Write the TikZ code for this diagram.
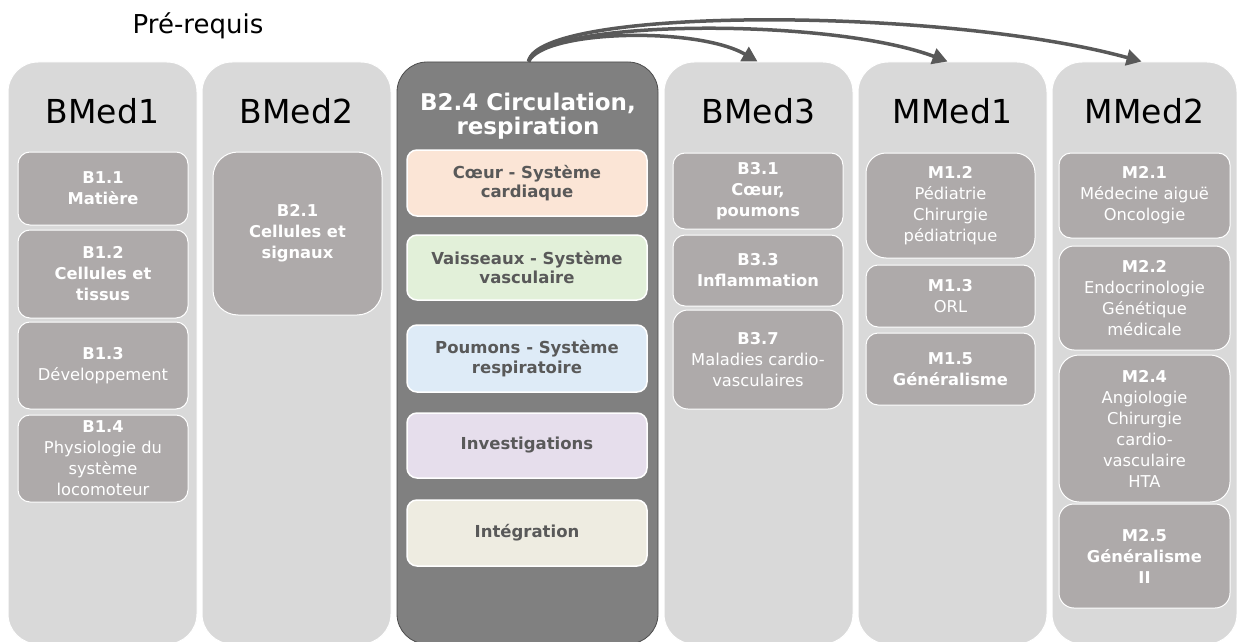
\documentclass[tikz,border=0pt]{standalone}
\usepackage{fontspec}
\setmainfont{DejaVu Sans}
\usetikzlibrary{arrows.meta}
\definecolor{colbg}{HTML}{D9D9D9}
\definecolor{darkcol}{HTML}{808080}
\definecolor{subbg}{HTML}{AEAAAA}
\definecolor{txtdark}{HTML}{595959}
\definecolor{arrowc}{HTML}{595959}
\definecolor{peach}{HTML}{FBE5D6}
\definecolor{mint}{HTML}{E2F0D9}
\definecolor{sky}{HTML}{DEEBF7}
\definecolor{lav}{HTML}{E6DEEC}
\definecolor{beige}{HTML}{EEECE1}
\begin{document}
\begin{tikzpicture}[x=1pt,y=-1pt,
 colbox/.style={rectangle, rounded corners=30pt, fill=colbg, draw=white, line width=1pt, minimum width=189pt, minimum height=582pt, inner sep=0pt},
 header/.style={font=\fontsize{33}{40}\selectfont, text=black, inner sep=0pt},
 sub/.style={rectangle, rounded corners=12pt, fill=subbg, draw=white, line width=1pt, text=white, align=center, inner sep=0pt, font=\fontsize{16.3}{21}\selectfont},
 topic/.style={rectangle, rounded corners=10pt, draw=white, line width=1.5pt, text=txtdark, align=center, inner sep=0pt, minimum width=240pt, font=\bfseries\fontsize{16.5}{19.5}\selectfont},
 link/.style={draw=arrowc, line width=3.5pt, -{Triangle[length=15pt,width=16pt]}}
]
\useasboundingbox (0,0) rectangle (1237,642);
\clip (0,0) rectangle (1237,642);

% columns
\node[colbox] (col1) at (102.5,353) {};
\node[colbox] (col2) at (296.5,353) {};
\node[colbox, fill=darkcol, draw=black!70, line width=0.8pt, minimum width=261pt] (col3) at (527.5,353) {};
\node[colbox] (col4) at (758.5,353) {};
\node[colbox] (col5) at (952.5,353) {};
\node[colbox, minimum width=185pt] (col6) at (1144.5,353) {};

% title
\node[font=\fontsize{26}{30}\selectfont, text=black, inner sep=0pt] (pre) at (198,26) {Pré-requis};

% headers
\node[header] (h1) at (102.5,111) {BMed1};
\node[header] (h2) at (296.5,111) {BMed2};
\node[text=white, align=center, inner sep=0pt, font=\bfseries\fontsize{23}{24}\selectfont] (h3) at (528,116) {B2.4 Circulation,\\respiration};
\node[header] (h4) at (758.5,111) {BMed3};
\node[header] (h5) at (952.5,111) {MMed1};
\node[header] (h6) at (1144.5,111) {MMed2};

% BMed1
\node[sub, minimum width=170pt, minimum height=73pt] (b11) at (103,188.5) {\textbf{B1.1}\\\textbf{Matière}};
\node[sub, minimum width=170pt, minimum height=88pt] (b12) at (103,274) {\textbf{B1.2}\\\textbf{Cellules et}\\\textbf{tissus}};
\node[sub, minimum width=170pt, minimum height=87pt] (b13) at (103,365.5) {\textbf{B1.3}\\Développement};
\node[sub, minimum width=170pt, minimum height=87pt] (b14) at (103,458.5) {\textbf{B1.4}\\Physiologie du\\système\\locomoteur};

% BMed2
\node[sub, rounded corners=25pt, minimum width=169pt, minimum height=163pt] (b21) at (297.5,233.5) {\textbf{B2.1}\\\textbf{Cellules et}\\\textbf{signaux}};

% B2.4
\node[topic, fill=peach, minimum height=66pt] (t1) at (527,183) {Cœur - Système\\cardiaque};
\node[topic, fill=mint, minimum height=65pt] (t2) at (527,267.5) {Vaisseaux - Système\\vasculaire};
\node[topic, fill=sky, minimum height=67pt] (t3) at (527,358.5) {Poumons - Système\\respiratoire};
\node[topic, fill=lav, minimum height=65pt] (t4) at (527,445.5) {Investigations};
\node[topic, fill=beige, minimum height=66pt] (t5) at (527,533) {Intégration};

% BMed3
\node[sub, minimum width=170pt, minimum height=76pt] (b31) at (758,191) {\textbf{B3.1}\\\textbf{Cœur,}\\\textbf{poumons}};
\node[sub, minimum width=170pt, minimum height=71pt] (b33) at (758,270.5) {\textbf{B3.3}\\\textbf{Inflammation}};
\node[sub, rounded corners=15pt, minimum width=170pt, minimum height=99pt] (b37) at (758,359.5) {\textbf{B3.7}\\Maladies cardio-\\vasculaires};

% MMed1
\node[sub, rounded corners=20pt, minimum width=169pt, minimum height=105pt] (m12) at (950.5,205.5) {\textbf{M1.2}\\Pédiatrie\\Chirurgie\\pédiatrique};
\node[sub, minimum width=169pt, minimum height=62pt] (m13) at (950.5,296) {\textbf{M1.3}\\ORL};
\node[sub, minimum width=169pt, minimum height=72pt] (m15) at (950.5,369) {\textbf{M1.5}\\\textbf{Généralisme}};

% MMed2
\node[sub, minimum width=171pt, minimum height=85pt] (m21) at (1144.5,195.5) {\textbf{M2.1}\\Médecine aiguë\\Oncologie};
\node[sub, rounded corners=15pt, minimum width=171pt, minimum height=104pt] (m22) at (1144.5,298) {\textbf{M2.2}\\Endocrinologie\\Génétique\\médicale};
\node[sub, rounded corners=20pt, minimum width=171pt, minimum height=147pt] (m24) at (1144.5,428.5) {\textbf{M2.4}\\Angiologie\\Chirurgie\\cardio-\\vasculaire\\HTA};
\node[sub, rounded corners=15pt, minimum width=171pt, minimum height=104pt] (m25) at (1144.5,556) {\textbf{M2.5}\\\textbf{Généralisme}\\\textbf{II}};

% arrows
\draw[link] ([xshift=1pt]col3.north) .. controls +(10,-55) and +(-200,-55) .. ([xshift=-3pt]col6.north);
\draw[link] ([xshift=1pt]col3.north) .. controls +(12,-42) and +(-120,-45) .. ([xshift=-5pt]col5.north);
\draw[link] ([xshift=1pt]col3.north) .. controls +(15,-32) and +(-60,-35) .. ([xshift=-1pt]col4.north);
\end{tikzpicture}
\end{document}
